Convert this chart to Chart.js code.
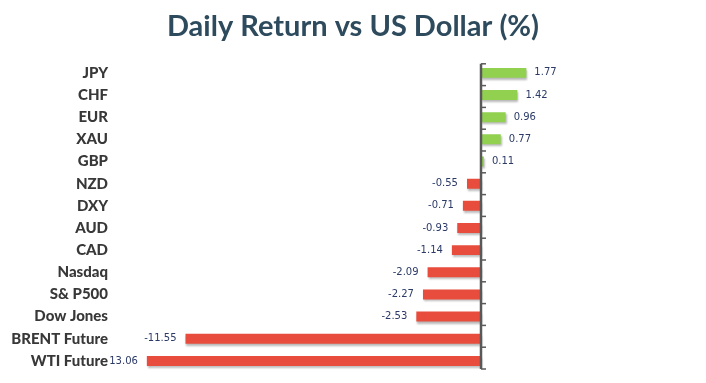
<!DOCTYPE html>
<html>
<head>
<meta charset="utf-8">
<script src="https://cdn.jsdelivr.net/npm/chart.js@4"></script>
<style>
html,body{margin:0;padding:0;background:#fff;}
#wrap{width:706px;height:383px;position:relative;}
</style>
</head>
<body>
<div id="wrap"><canvas id="c" width="706" height="383"></canvas></div>
<script>
const categories = ["JPY","CHF","EUR","XAU","GBP","NZD","DXY","AUD","CAD","Nasdaq","S& P500","Dow Jones","BRENT Future","WTI Future"];
const returns = [1.77,1.42,0.96,0.77,0.11,-0.55,-0.71,-0.93,-1.14,-2.09,-2.27,-2.53,-11.55,-13.06];
const valueLabels = ["1.77","1.42","0.96","0.77","0.11","-0.55","-0.71","-0.93","-1.14","-2.09","-2.27","-2.53","-11.55","13.06"];
const titleText = "Daily Return vs US Dollar (%)";

const GREEN = "#92D050", RED = "#E84C3D";

const shadowPlugin = {
  id: 'barShadow',
  beforeDatasetDraw(chart){
    const ctx = chart.ctx; ctx.save();
    ctx.shadowColor = 'rgba(0,0,0,0.28)';
    ctx.shadowBlur = 2; ctx.shadowOffsetX = 1; ctx.shadowOffsetY = 2;
  },
  afterDatasetDraw(chart){ chart.ctx.restore(); }
};

const axisPlugin = {
  id: 'zeroAxis',
  afterDatasetsDraw(chart){
    const ctx = chart.ctx, xs = chart.scales.x;
    const x0 = Math.round(xs.getPixelForValue(0));
    const top = chart.chartArea.top + 2, bottom = chart.chartArea.bottom - 3;
    ctx.save();
    ctx.strokeStyle = '#595959';
    ctx.lineWidth = 2.5;
    ctx.beginPath(); ctx.moveTo(x0, top); ctx.lineTo(x0, bottom); ctx.stroke();
    ctx.lineWidth = 1.5;
    const n = categories.length;
    for(let i=0;i<=n;i++){
      const y = top + (bottom-top)*i/n;
      ctx.beginPath(); ctx.moveTo(x0, y); ctx.lineTo(x0+5, y); ctx.stroke();
    }
    ctx.restore();
  }
};

const labelPlugin = {
  id: 'valLabels',
  afterDatasetsDraw(chart){
    const ctx = chart.ctx;
    const meta = chart.getDatasetMeta(0);
    ctx.save();
    ctx.font = '10px "DejaVu Sans"';
    ctx.fillStyle = '#2B3A67';
    ctx.textBaseline = 'middle';
    meta.data.forEach((bar,i)=>{
      const v = returns[i];
      if(v >= 0){ ctx.textAlign='left'; ctx.fillText(valueLabels[i], bar.x + 8, bar.y); }
      else { ctx.textAlign='right'; ctx.fillText(valueLabels[i], bar.x - 9, bar.y); }
    });
    ctx.restore();
  }
};

new Chart(document.getElementById('c'), {
  type: 'bar',
  data: {
    labels: categories,
    datasets: [{
      data: returns,
      backgroundColor: returns.map(v => v >= 0 ? GREEN : RED),
      borderWidth: 0,
      barPercentage: 0.45,
      categoryPercentage: 1.0
    }]
  },
  options: {
    indexAxis: 'y',
    responsive: false,
    animation: false,
    devicePixelRatio: 1,
    layout: { padding: { left: 0, right: 0, top: 0, bottom: 7 } },
    plugins: {
      legend: { display: false },
      tooltip: { enabled: false },
      title: {
        display: true,
        text: titleText,
        color: '#2E4B5E',
        font: { family: 'Lato', size: 29, weight: 'bold' },
        padding: { top: 9, bottom: 18 }
      }
    },
    scales: {
      x: { display: false, min: -14.5, max: 8.79 },
      y: {
        grid: { display: false, drawTicks: false },
        border: { display: false },
        ticks: { color: '#383838', font: { family: 'Lato', size: 15, weight: '900' }, padding: 2 },
        afterFit(s){ s.width = 110; }
      }
    }
  },
  plugins: [shadowPlugin, axisPlugin, labelPlugin]
});
</script>
</body>
</html>
